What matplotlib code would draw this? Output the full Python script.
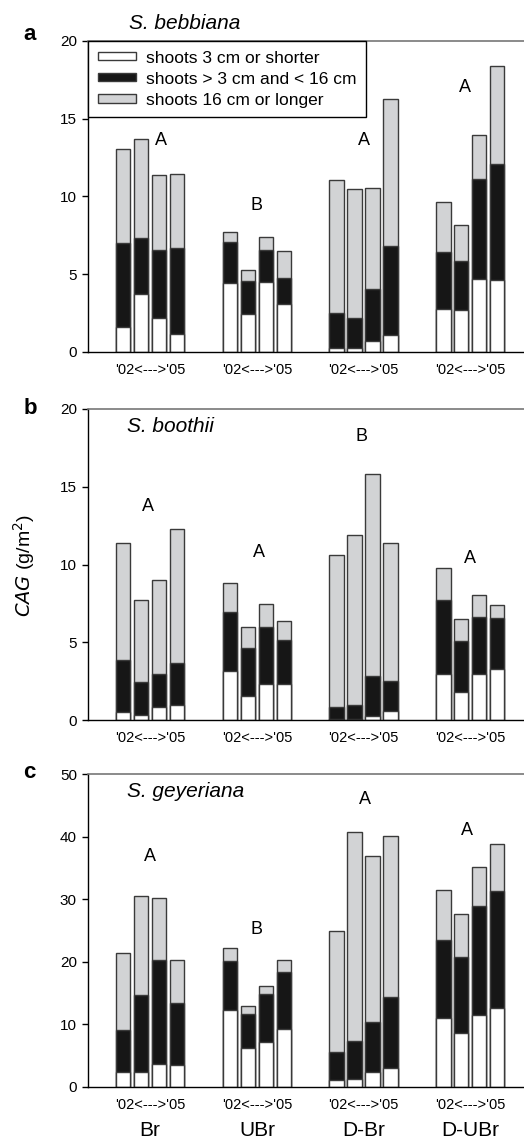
import numpy as np
import matplotlib
matplotlib.use('Agg')
import matplotlib.pyplot as plt

plt.rcParams['font.family'] = ['Liberation Sans', 'DejaVu Sans']

# Участки и подписи
sites = ['Br', 'UBr', 'D-Br', 'D-UBr']
year_label = "'02<--->'05"
classes = ['shoots 3 cm or shorter', 'shoots > 3 cm and < 16 cm', 'shoots 16 cm or longer']

# Накопленные верхушки столбцов (по годам 2002-2005), панель a
bebb_short = [[1.63, 3.73, 2.17, 1.18], [4.42, 2.47, 4.50, 3.11],
              [0.26, 0.26, 0.71, 1.09], [2.77, 2.70, 4.69, 4.63]]
bebb_mid = [[6.99, 7.31, 6.56, 6.69], [7.05, 4.57, 6.56, 4.76],
            [2.51, 2.19, 4.05, 6.82], [6.43, 5.85, 11.13, 12.09]]
bebb_long = [[13.08, 13.72, 11.36, 11.45], [7.70, 5.25, 7.42, 6.50],
             [11.06, 10.48, 10.57, 16.25], [9.62, 8.15, 13.93, 18.41]]

# панель b
booth_short = [[0.49, 0.34, 0.84, 0.99], [3.13, 1.52, 2.33, 2.29],
               [0.09, 0.06, 0.28, 0.60], [2.93, 1.78, 2.98, 3.30]]
booth_mid = [[3.88, 2.42, 2.98, 3.68], [6.96, 4.65, 6.00, 5.16],
             [0.84, 0.99, 2.85, 2.53], [7.73, 5.10, 6.64, 6.57]]
booth_long = [[11.39, 7.71, 8.99, 12.27], [8.82, 5.97, 7.47, 6.38],
              [10.60, 11.91, 15.85, 11.39], [9.76, 6.51, 8.05, 7.37]]

# панель c
geyer_short = [[2.40, 2.35, 3.63, 3.47], [12.27, 6.19, 7.20, 9.23],
               [1.07, 1.23, 2.35, 3.04], [10.94, 8.59, 11.47, 12.59]]
geyer_mid = [[9.07, 14.67, 20.28, 13.39], [20.12, 11.63, 14.83, 18.36],
             [5.55, 7.31, 10.35, 14.35], [23.48, 20.76, 28.98, 31.32]]
geyer_long = [[21.45, 30.47, 30.26, 20.33], [22.20, 12.91, 16.17, 20.28],
              [24.87, 40.72, 36.87, 40.13], [31.54, 27.59, 35.22, 38.85]]

# Буквы значимости: (позиция внутри группы, высота)
bebb_letters = ['A', 'B', 'A', 'A']
bebb_let_pos = [(2.1, 13.6), (1.5, 9.45), (1.5, 13.6), (1.2, 17.0)]
booth_letters = ['A', 'A', 'B', 'A']
booth_let_pos = [(1.4, 13.7), (1.6, 10.8), (1.4, 18.2), (1.5, 10.4)]
geyer_letters = ['A', 'B', 'A', 'A']
geyer_let_pos = [(1.5, 36.9), (1.5, 25.1), (1.6, 46.0), (1.3, 41.0)]

group_pitch = 5.94
colors = ['white', '#161616', '#d2d3d5']
edge = '#3a3a3a'


def panel(ax, short, mid, long_, letters, let_pos, ymax, ystep, species, inside):
    short = np.array(short)
    mid = np.array(mid)
    long_ = np.array(long_)
    for g in range(4):
        x = g * group_pitch + np.arange(4)
        ax.bar(x, long_[g], width=0.8, color=colors[2], edgecolor=edge, linewidth=1,
               label=classes[2])
        ax.bar(x, mid[g], width=0.8, color=colors[1], edgecolor=edge, linewidth=1,
               label=classes[1])
        ax.bar(x, short[g], width=0.8, color=colors[0], edgecolor=edge, linewidth=1,
               label=classes[0])
        px, py = let_pos[g]
        ax.text(g * group_pitch + px, py, letters[g], ha='center', va='center', fontsize=13)
    ax.set_xlim(-1.96, 3 * group_pitch + 3 + 1.49)
    ax.set_ylim(0, ymax)
    ax.set_yticks(np.arange(0, ymax + 1, ystep))
    ax.set_xticks([g * group_pitch + 1.5 for g in range(4)])
    ax.set_xticklabels([year_label] * 4, fontsize=10.5)
    ax.tick_params(axis='x', length=0, pad=8)
    ax.tick_params(axis='y', length=4, width=1, labelsize=11, pad=4)
    ax.spines['right'].set_visible(False)
    ax.spines['top'].set_color('#777777')
    ax.spines['top'].set_linewidth(1.2)
    for s in ['left', 'bottom']:
        ax.spines[s].set_linewidth(1)
    if inside:
        ax.text(0.09, 0.945, species, transform=ax.transAxes, style='italic',
                fontsize=15, va='center', ha='left')
    else:
        ax.text(0.095, 1.055, species, transform=ax.transAxes, style='italic',
                fontsize=15, va='center', ha='left')


fig = plt.figure(figsize=(5.24, 11.38), dpi=100)
ax1 = fig.add_axes([0.168, 0.6907, 0.832, 0.2733])
ax2 = fig.add_axes([0.168, 0.3673, 0.832, 0.2733])
ax3 = fig.add_axes([0.168, 0.0451, 0.832, 0.2745])

panel(ax1, bebb_short, bebb_mid, bebb_long, bebb_letters, bebb_let_pos, 20, 5, 'S. bebbiana', False)
panel(ax2, booth_short, booth_mid, booth_long, booth_letters, booth_let_pos, 20, 5, 'S. boothii', True)
panel(ax3, geyer_short, geyer_mid, geyer_long, geyer_letters, geyer_let_pos, 50, 10, 'S. geyeriana', True)

# Легенда на верхней панели
h, l = ax1.get_legend_handles_labels()
leg = ax1.legend([h[2], h[1], h[0]], [l[2], l[1], l[0]], loc='upper left',
                 bbox_to_anchor=(0.0, 1.0), fontsize=12.5, frameon=True, fancybox=False,
                 edgecolor='black', framealpha=1, handlelength=2.2, handleheight=0.35,
                 borderpad=0.55, labelspacing=0.35, handletextpad=0.6, borderaxespad=0)
leg.get_frame().set_linewidth(1)

# Подписи участков под нижней панелью
for g, s in enumerate(sites):
    ax3.text(g * group_pitch + 1.5, -0.14, s, transform=ax3.get_xaxis_transform(),
             ha='center', va='center', fontsize=15)

# Буквы панелей
for ax, letter, yy in zip([ax1, ax2, ax3], ['a', 'b', 'c'], [1.02, 1.0, 1.006]):
    ax.text(-0.148, yy, letter, transform=ax.transAxes, fontsize=16,
            fontweight='bold', va='center', ha='left')

fig.text(0.045, 0.503, r'$\it{CAG}$ (g/m$^2$)', rotation=90, ha='center', va='center',
         fontsize=14)

fig.savefig('out.png', dpi=100)
